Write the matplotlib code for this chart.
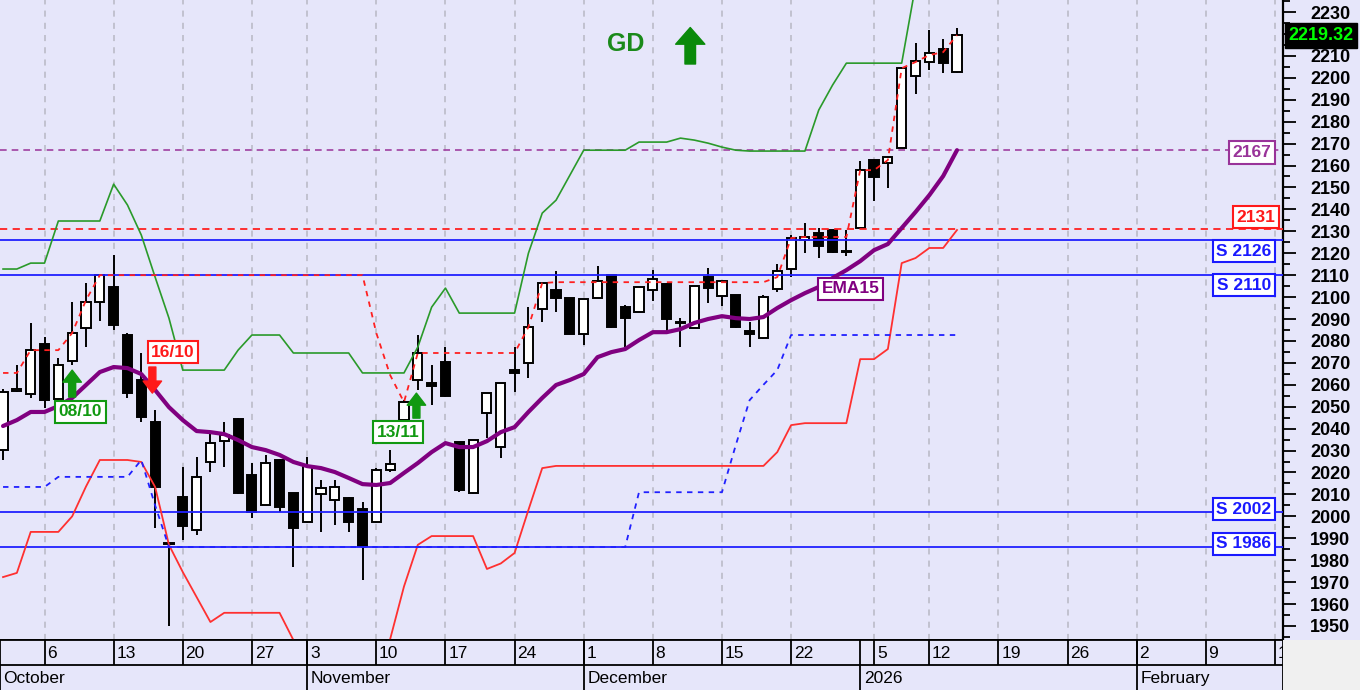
import matplotlib
matplotlib.use('Agg')
import matplotlib.pyplot as plt
import matplotlib.transforms as mtransforms
from matplotlib.patches import Rectangle
import numpy as np

plt.rcParams['font.family'] = ['Liberation Sans', 'DejaVu Sans']

# ---------------- data ----------------
opens = [2030.2, 2057.2, 2055.8, 2078.6, 2053.5, 2070.8, 2085.9, 2097.7, 2104.6, 2082.7,
         2062.2, 2043.0, 1988.0, 2008.8, 1993.8, 2024.8, 2034.3, 2044.4, 2018.8, 2005.2,
         2025.7, 2010.6, 1997.4, 2010.2, 2007.4, 2008.4, 2003.3, 1997.4, 2021.1, 2043.9,
         2062.2, 2060.8, 2070.4, 2033.9, 2010.6, 2047.1, 2031.6, 2066.7, 2069.9, 2094.5,
         2103.2, 2099.6, 2083.1, 2099.6, 2110.0, 2095.4, 2093.2, 2103.2, 2106.0, 2088.8,
         2085.9, 2109.1, 2100.5, 2100.9, 2084.5, 2081.3, 2103.7, 2112.8, 2126.0, 2129.2,
         2130.6, 2120.8, 2131.5, 2162.5, 2161.1, 2168.0, 2200.8, 2207.2, 2213.1, 2202.6]
highs = [2058.0, 2069.0, 2088.2, 2081.8, 2072.0, 2097.7, 2106.4, 2110.0, 2119.2, 2083.6,
         2074.5, 2048.5, 1988.5, 2022.5, 2027.0, 2038.0, 2043.0, 2044.8, 2024.3, 2028.0,
         2026.0, 2010.8, 2027.0, 2016.6, 2016.6, 2008.6, 2006.5, 2022.0, 2030.2, 2053.0,
         2082.7, 2069.0, 2077.2, 2034.0, 2034.8, 2056.2, 2060.8, 2077.2, 2095.4, 2106.4,
         2111.9, 2099.8, 2099.2, 2114.1, 2110.2, 2096.4, 2104.8, 2112.3, 2106.2, 2090.4,
         2105.2, 2113.2, 2107.5, 2101.0, 2088.6, 2100.8, 2115.0, 2128.3, 2133.8, 2131.5,
         2130.8, 2130.6, 2162.0, 2162.7, 2163.9, 2204.6, 2215.8, 2221.8, 2217.7, 2222.7]
lows = [2025.7, 2056.5, 2054.0, 2049.4, 2053.0, 2069.0, 2077.2, 2089.0, 2085.0, 2054.0,
        2043.0, 1994.7, 1950.0, 1989.2, 1991.5, 2020.0, 2022.5, 2010.0, 1999.2, 2005.0,
        2002.0, 1976.9, 1997.0, 1992.8, 1996.0, 1992.8, 1971.0, 1997.0, 2020.0, 2043.0,
        2057.6, 2050.8, 2054.4, 2011.0, 2010.4, 2035.7, 2026.6, 2056.7, 2063.1, 2088.6,
        2093.2, 2083.0, 2078.0, 2099.4, 2086.0, 2077.2, 2093.0, 2098.2, 2084.0, 2077.2,
        2085.7, 2097.3, 2095.9, 2086.0, 2077.2, 2081.0, 2102.3, 2109.1, 2120.0, 2117.8,
        2120.3, 2118.7, 2131.3, 2143.8, 2149.7, 2167.8, 2192.6, 2203.5, 2202.2, 2202.4]
closes = [2056.7, 2058.0, 2075.8, 2053.0, 2069.0, 2083.6, 2097.7, 2110.0, 2087.2, 2056.2,
          2045.3, 2013.4, 1987.4, 1995.6, 2017.9, 2033.4, 2037.1, 2010.6, 2002.0, 2024.3,
          2004.3, 1994.7, 2022.9, 2012.9, 2013.4, 1997.4, 1986.5, 2021.1, 2023.9, 2052.1,
          2074.5, 2059.4, 2054.9, 2012.0, 2034.8, 2056.2, 2060.8, 2065.4, 2086.3, 2106.4,
          2099.6, 2083.1, 2099.1, 2107.3, 2086.3, 2090.4, 2104.6, 2108.2, 2090.0, 2088.4,
          2105.0, 2104.1, 2107.3, 2086.3, 2083.1, 2100.0, 2111.9, 2126.9, 2127.4, 2123.3,
          2120.5, 2120.5, 2157.9, 2154.7, 2163.8, 2204.4, 2207.6, 2211.3, 2206.7, 2219.32]
ema15 = [2041.2, 2043.9, 2047.6, 2047.6, 2050.3, 2054.0, 2059.9, 2065.8, 2068.1, 2067.6,
         2064.9, 2057.6, 2049.8, 2043.9, 2038.9, 2038.4, 2037.5, 2034.8, 2031.6, 2030.2,
         2028.0, 2024.8, 2022.9, 2022.0, 2020.2, 2017.5, 2014.7, 2014.3, 2015.2, 2019.8,
         2024.3, 2029.3, 2033.4, 2031.6, 2031.6, 2034.3, 2038.4, 2040.7, 2047.6, 2054.0,
         2059.9, 2062.2, 2064.9, 2072.6, 2074.9, 2076.3, 2080.4, 2084.0, 2084.0, 2085.4,
         2088.2, 2090.0, 2091.3, 2090.4, 2090.0, 2090.9, 2095.0, 2098.6, 2101.8, 2104.6,
         2108.7, 2112.3, 2116.4, 2121.4, 2124.2, 2131.5, 2138.8, 2146.5, 2155.2, 2167.0]
upper_band = [2112.8, 2112.8, 2115.5, 2115.5, 2134.7, 2134.7, 2134.7, 2134.7, 2151.5, 2142.0,
              2128.3, 2109.1, 2090.4, 2066.7, 2066.7, 2066.7, 2066.7, 2075.8, 2082.7, 2082.7,
              2082.7, 2074.5, 2074.5, 2074.5, 2074.5, 2074.5, 2065.4, 2065.4, 2065.4, 2065.4,
              2077.2, 2095.4, 2104.1, 2092.7, 2092.7, 2092.7, 2092.7, 2092.7, 2120.0, 2138.3,
              2144.2, 2155.6, 2167.0, 2167.0, 2167.0, 2167.0, 2170.7, 2170.7, 2170.7, 2172.5,
              2171.6, 2170.2, 2168.4, 2167.0, 2166.6, 2166.6, 2166.6, 2166.6, 2166.6, 2185.3,
              2196.7, 2206.7, 2206.7, 2206.7, 2206.7, 2206.7, 2242.0, 2250.0, 2252.0, 2255.0]
lower_band = [1972.3, 1974.2, 1992.9, 1992.9, 1992.9, 2000.0, 2013.6, 2025.7, 2025.7, 2025.7,
              2024.8, 2013.4, 1987.0, 1974.6, 1963.2, 1951.8, 1956.0, 1956.0, 1956.0, 1956.0,
              1956.0, 1943.6, 1925.0, 1920.0, 1920.0, 1920.0, 1920.0, 1925.0, 1944.0, 1968.0,
              1987.0, 1991.0, 1991.0, 1991.0, 1991.0, 1976.0, 1978.5, 1983.3, 2002.9, 2022.0,
              2023.0, 2023.0, 2023.0, 2023.0, 2023.0, 2023.0, 2023.0, 2023.0, 2023.0, 2023.0,
              2023.0, 2023.0, 2023.0, 2023.0, 2023.0, 2023.0, 2029.3, 2041.6, 2042.5, 2042.5,
              2042.5, 2042.5, 2071.7, 2071.7, 2076.3, 2115.5, 2117.8, 2122.4, 2122.4, 2130.6]
resistance_trail = [2065.4, 2065.4, 2075.8, 2075.8, 2075.8, 2083.6, 2098.6, 2110.0, 2110.0, 2110.0,
                    2110.0, 2110.0, 2110.0, 2110.0, 2110.0, 2110.0, 2110.0, 2110.0, 2110.0, 2110.0,
                    2110.0, 2110.0, 2110.0, 2110.0, 2110.0, 2110.0, 2110.0, 2083.6, 2064.4, 2052.1,
                    2074.5, 2074.5, 2074.5, 2074.5, 2074.5, 2074.5, 2074.5, 2074.5, 2086.3, 2106.4,
                    2106.8, 2106.8, 2106.8, 2106.8, 2106.8, 2106.8, 2106.8, 2106.8, 2106.8, 2106.8,
                    2106.8, 2106.8, 2106.8, 2106.8, 2106.8, 2106.8, 2109.1, 2126.9, 2127.4, 2127.4,
                    2127.4, 2127.4, 2157.9, 2157.9, 2162.5, 2204.4, 2207.2, 2210.4, 2211.7, 2219.5]
support_trail = [2013.4, 2013.4, 2013.4, 2013.4, 2018.0, 2018.0, 2018.0, 2018.0, 2018.0, 2018.0,
                 2025.7, 2005.0, 1986.0, 1986.0, 1986.0, 1986.0, 1986.0, 1986.0, 1986.0, 1986.0,
                 1986.0, 1986.0, 1986.0, 1986.0, 1986.0, 1986.0, 1986.0, 1986.0, 1986.0, 1986.0,
                 1986.0, 1986.0, 1986.0, 1986.0, 1986.0, 1986.0, 1986.0, 1986.0, 1986.0, 1986.0,
                 1986.0, 1986.0, 1986.0, 1986.0, 1986.0, 1986.0, 2011.0, 2011.0, 2011.0, 2011.0,
                 2011.0, 2011.0, 2011.0, 2032.5, 2053.0, 2060.0, 2066.7, 2082.7, 2082.7, 2082.7,
                 2082.7, 2082.7, 2082.7, 2082.7, 2082.7, 2082.7, 2082.7, 2082.7, 2082.7, 2082.7]

week_tick_pos = [3, 8, 13, 18, 22, 27, 32, 37, 42, 47, 52, 57, 63, 67, 72, 77, 82, 87, 92]
week_tick_labels = ['6', '13', '20', '27', '3', '10', '17', '24', '1', '8', '15', '22',
                    '5', '12', '19', '26', '2', '9', '16']
month_pos = [-0.22, 22, 42, 62, 82]
month_labels = ['October', 'November', 'December', '2026', 'February']

price_ticks = list(range(1950, 2231, 10))
support_levels = [2126, 2110, 2002, 1986]
support_label_y = [2121.0, 2105.5, 2003.3, 1987.4]
level_red = 2131
level_purple = 2167
last_price = 2219.32

signal_x = [5, 10.8, 29.9]
signal_tail = [2054.4, 2068.1, 2044.8]
signal_head = [2066.7, 2056.2, 2056.2]
signal_text = ['08/10', '16/10', '13/11']
signal_text_x = [5.6, 12.3, 28.55]
signal_text_y = [2047.6, 2074.9, 2038.4]
signal_color = ['#119911', '#ff1a1a', '#119911']

# ---------------- figure ----------------
BG = '#E6E6FA'
W, H = 1360, 690
fig = plt.figure(figsize=(W / 100, H / 100), dpi=100, facecolor=BG)
ax = fig.add_axes([0, 50 / H, 1283 / W, 640 / H], facecolor=BG)
axs = fig.add_axes([0, 0, 1283 / W, 50 / H], facecolor=BG)
fig.patches.append(Rectangle((1283 / W, 0), 77 / W, 50 / H, transform=fig.transFigure,
                             facecolor='#F0F0F0', edgecolor='none', zorder=0))

xmin, xmax = -0.22, 92.58
ax.set_xlim(xmin, xmax)
ax.set_ylim(1943.6, 2235.5)

x = np.arange(len(closes))
o = np.array(opens); c = np.array(closes); h = np.array(highs); l = np.array(lows)

# grid
for p in week_tick_pos:
    ax.axvline(p, color='#b8b8c4', lw=1.1, ls=(0, (4, 4)), zorder=1)

# horizontal levels
for lv in support_levels:
    ax.axhline(lv, color='#2020ff', lw=1.3, zorder=3.6)
ax.axhline(level_red, color='#ff2020', lw=1.3, ls=(0, (4, 3)), zorder=3.6)
ax.axhline(level_purple, color='#a040a0', lw=1.2, ls=(0, (4, 3)), zorder=3.6)

# candles
ax.vlines(x, l, h, color='black', lw=1.4, zorder=3)
up = c >= o
bb = np.minimum(o, c)
bh = np.maximum(np.abs(c - o), 0.45)
ax.bar(x[up], bh[up], bottom=bb[up], width=0.66, color='white', edgecolor='black',
       lw=1.4, zorder=3.2)
ax.bar(x[~up], bh[~up], bottom=bb[~up], width=0.66, color='black', edgecolor='black',
       lw=1.4, zorder=3.2)

# overlays
ax.plot(x, upper_band, color='#2a9a2a', lw=1.2, zorder=4)
ax.plot(x, lower_band, color='#ff3030', lw=1.3, zorder=4)
ax.plot(x, resistance_trail, color='#ff2020', lw=1.3, ls=(0, (3, 3)), zorder=4.1)
ax.plot(x, support_trail, color='#2020ff', lw=1.3, ls=(0, (3, 3)), zorder=4.1)
ax.plot(x, ema15, color='#800080', lw=3, zorder=5, solid_capstyle='round')

# labels on the right
tr = mtransforms.blended_transform_factory(ax.transAxes, ax.transData)
for lv, ly in zip(support_levels, support_label_y):
    ax.text(0.9696, ly, f'S {lv}', transform=tr, ha='center', va='center', color='#1a1aff',
            fontsize=12.5, fontweight='bold', zorder=8,
            bbox=dict(boxstyle='square,pad=0.22', fc='white', ec='#1a1aff', lw=1.5))
ax.text(0.979, 2136.5, f'{level_red}', transform=tr, ha='center', va='center', color='#ff1a1a',
        fontsize=12.5, fontweight='bold', zorder=8,
        bbox=dict(boxstyle='square,pad=0.22', fc='white', ec='#ff1a1a', lw=1.5))
ax.text(0.976, 2166.0, f'{level_purple}', transform=tr, ha='center', va='center', color='#993399',
        fontsize=12.5, fontweight='bold', zorder=8,
        bbox=dict(boxstyle='square,pad=0.22', fc='white', ec='#993399', lw=1.5))
ax.text(61.3, 2103.9, 'EMA15', ha='center', va='center', color='#800080', fontsize=12.5,
        fontweight='bold', zorder=8,
        bbox=dict(boxstyle='square,pad=0.2', fc='white', ec='#800080', lw=1.5))

# signals
for sx, st, sh, txt, tx, ty, col in zip(signal_x, signal_tail, signal_head, signal_text,
                                        signal_text_x, signal_text_y, signal_color):
    ax.annotate('', xy=(sx, sh), xytext=(sx, st), zorder=7,
                arrowprops=dict(arrowstyle='simple,head_length=0.62,head_width=0.95,tail_width=0.36',
                                fc=col, ec=col, mutation_scale=14, shrinkA=0, shrinkB=0))
    ax.text(tx, ty, txt, ha='center', va='center', color=col, fontsize=12.5, fontweight='bold',
            zorder=8, bbox=dict(boxstyle='square,pad=0.2', fc='white', ec=col, lw=1.5))

# GD marker
ax.text(0.488, 0.931, 'GD', transform=ax.transAxes, ha='center', va='center', color='#1a8a1a',
        fontsize=18, fontweight='bold', zorder=8)
ax.annotate('', xy=(0.538, 0.957), xytext=(0.538, 0.900), xycoords='axes fraction',
            textcoords='axes fraction', zorder=8,
            arrowprops=dict(arrowstyle='simple,head_length=0.6,head_width=1.05,tail_width=0.38',
                            fc='#0a8a0a', ec='#0a8a0a', mutation_scale=20, shrinkA=0, shrinkB=0))

# right axis (the 2220 label sits under the last-price tag)
ax.yaxis.tick_right()
ax.set_yticks(price_ticks)
ax.set_yticklabels(['' if abs(v - last_price) < 3 else str(v) for v in price_ticks])
ax.set_yticks(np.arange(1945, 2236, 5), minor=True)
ax.tick_params(axis='y', which='major', length=9.5, width=1.3, pad=10, labelsize=13,
               colors='black')
ax.tick_params(axis='y', which='minor', length=5, width=1.3)
for t in ax.get_yticklabels():
    t.set_fontweight('bold')
ax.set_xticks([])
for s in ['top', 'left']:
    ax.spines[s].set_visible(False)
ax.spines['right'].set_linewidth(1.6)
ax.spines['bottom'].set_linewidth(1.4)

# last price tag
ax.text(1.004, last_price, f'{last_price:.2f}', transform=tr, ha='left', va='center',
        color='#00ff00', fontsize=13, fontweight='bold', zorder=20, clip_on=False,
        bbox=dict(boxstyle='square,pad=0.2', fc='black', ec='black'))

# date strip
axs.set_xlim(xmin, xmax)
axs.set_ylim(0, 2)
axs.set_xticks([]); axs.set_yticks([])
for s in axs.spines.values():
    s.set_linewidth(1.3)
axs.spines['bottom'].set_visible(False)
axs.axhline(1, color='black', lw=1.3)
axs.vlines(week_tick_pos, 1, 2, color='black', lw=1.3)
axs.vlines(month_pos[1:], 0, 2, color='black', lw=1.3)
for p, lab in zip(week_tick_pos, week_tick_labels):
    axs.text(p + 0.2, 1.47, lab, ha='left', va='center', fontsize=12.5, color='black', clip_on=True)
for p, lab in zip(month_pos, month_labels):
    axs.text(p + 0.25, 0.47, lab, ha='left', va='center', fontsize=12.5, color='black', clip_on=True)

fig.savefig('out.png', dpi=100, facecolor=BG)
